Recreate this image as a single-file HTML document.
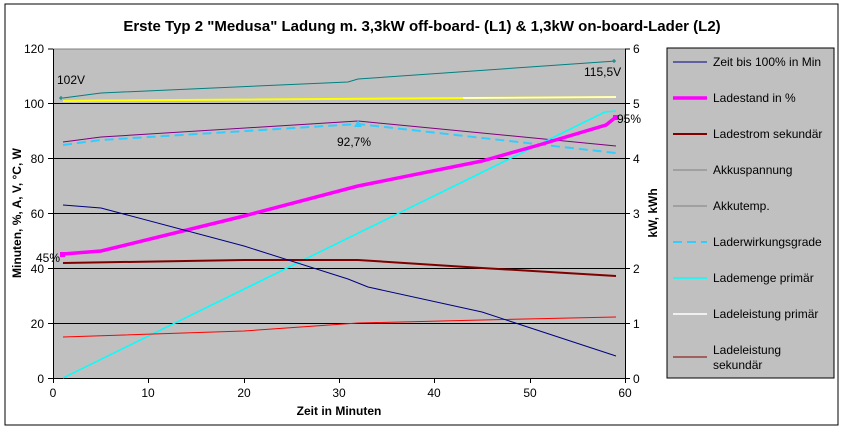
<!DOCTYPE html>
<html><head><meta charset="utf-8"><style>body{margin:0;background:#fff}svg{display:block;font-family:"Liberation Sans",Arial,sans-serif}</style></head><body>
<svg width="844" height="431" viewBox="0 0 844 431">
<rect x="5" y="4" width="833" height="421" fill="#fff" stroke="#000" stroke-width="1"/>
<text x="422" y="31" font-size="15" font-weight="bold" text-anchor="middle">Erste Typ 2 "Medusa" Ladung m. 3,3kW off-board- (L1) &amp; 1,3kW on-board-Lader (L2)</text>
<rect x="53" y="49" width="572" height="329" fill="#c0c0c0"/>
<g stroke="#000" stroke-width="1">
<line x1="53" x2="625" y1="103.5" y2="103.5"/><line x1="53" x2="625" y1="158.5" y2="158.5"/><line x1="53" x2="625" y1="213.5" y2="213.5"/><line x1="53" x2="625" y1="268.5" y2="268.5"/><line x1="53" x2="625" y1="323.5" y2="323.5"/>
<line x1="53" x2="625" y1="49" y2="49" stroke="#808080"/>
<line x1="53.5" x2="53.5" y1="49" y2="378"/><line x1="625.5" x2="625.5" y1="49" y2="378"/><line x1="53" x2="625" y1="378.5" y2="378.5"/>
<path d="M48 49h5M48 103.5h5M48 158.5h5M48 213.5h5M48 268.5h5M48 323.5h5M48 378.5h5M625 49h5M625 103.5h5M625 158.5h5M625 213.5h5M625 268.5h5M625 323.5h5M625 378.5h5M53.5 378v5M148.5 378v5M244.5 378v5M339.5 378v5M434.5 378v5M530.5 378v5M625.5 378v5"/>
</g>
<g font-size="12" text-anchor="end"><text x="44" y="53">120</text><text x="44" y="108">100</text><text x="44" y="163">80</text><text x="44" y="218">60</text><text x="44" y="273">40</text><text x="44" y="328">20</text><text x="44" y="383">0</text></g>
<g font-size="12"><text x="633" y="53">6</text><text x="633" y="108">5</text><text x="633" y="163">4</text><text x="633" y="218">3</text><text x="633" y="273">2</text><text x="633" y="328">1</text><text x="633" y="383">0</text></g>
<g font-size="12" text-anchor="middle"><text x="53" y="397">0</text><text x="148" y="397">10</text><text x="244" y="397">20</text><text x="339" y="397">30</text><text x="434" y="397">40</text><text x="530" y="397">50</text><text x="625" y="397">60</text></g>
<text x="339" y="415" font-size="12" font-weight="bold" text-anchor="middle">Zeit in Minuten</text>
<text transform="translate(21,213) rotate(-90)" font-size="12" font-weight="bold" text-anchor="middle">Minuten, %, A, V, °C, W</text>
<text transform="translate(657,213) rotate(-90)" font-size="12" font-weight="bold" text-anchor="middle">kW, kWh</text>
<g fill="none">
<polyline stroke="#008080" points="63,98 101,93 348,82 358,79 616,61"/>
<polyline stroke="#ffff00" stroke-width="2" points="63,101 101,100.5 616,97"/>
<polyline stroke="#fff" stroke-width="1.5" points="463,98 616,97"/>
<polyline stroke="#800080" points="63,142 101,137 358,121 616,146"/>
<polyline stroke="#33ccff" stroke-width="2" stroke-dasharray="9,5" points="63,145 101,140 358,124 616,153"/>
<polyline stroke="#00ffff" stroke-width="1.5" points="63,378 605,112 616,111"/>
<polyline stroke="#ff00ff" stroke-width="3.5" points="63,254 101,251 244,216 358,186 482,161 539,145 606,125 616,117"/>
<polyline stroke="#800000" stroke-width="2" points="63,263 244,260 358,260 482,268 616,276"/>
<polyline stroke="#ff0000" points="63,337 244,331 358,323 482,320 616,317"/>
<polyline stroke="#000080" points="63,205 101,208 244,246 348,279 368,287 482,312 616,356"/>
</g>
<path d="M63 98h-4M61 96v4M616 61h-4M614 59v4" stroke="#008080"/>
<path d="M358 120l-4 7h8z" fill="#33ccff"/>
<rect x="613" y="115" width="5" height="5" fill="#ff00ff"/>
<rect x="60" y="252" width="5" height="5" fill="#ff00ff"/>
<g font-size="12"><text x="57" y="84">102V</text><text x="584" y="76">115,5V</text><text x="617" y="123">95%</text><text x="36" y="262">45%</text><text x="337" y="146">92,7%</text></g>
<rect x="667" y="48" width="167" height="330" fill="#c0c0c0" stroke="#000"/>
<g font-size="12">
<line x1="673" x2="707" y1="62" y2="62" stroke="#000080"/><text x="713" y="66">Zeit bis 100% in Min</text>
<line x1="673" x2="707" y1="98" y2="98" stroke="#ff00ff" stroke-width="3.5"/><text x="713" y="102">Ladestand in %</text>
<line x1="673" x2="707" y1="134" y2="134" stroke="#800000" stroke-width="2"/><text x="713" y="138">Ladestrom sekundär</text>
<line x1="673" x2="707" y1="170" y2="170" stroke="#808080"/><text x="713" y="174">Akkuspannung</text>
<line x1="673" x2="707" y1="206" y2="206" stroke="#808080"/><text x="713" y="210">Akkutemp.</text>
<line x1="673" x2="707" y1="242" y2="242" stroke="#33ccff" stroke-width="2" stroke-dasharray="9,5"/><text x="713" y="246">Laderwirkungsgrade</text>
<line x1="673" x2="707" y1="278" y2="278" stroke="#00ffff" stroke-width="1.5"/><text x="713" y="282">Lademenge primär</text>
<line x1="673" x2="707" y1="314" y2="314" stroke="#fff" stroke-width="1.5"/><text x="713" y="318">Ladeleistung primär</text>
<line x1="673" x2="707" y1="357" y2="357" stroke="#800000"/><text x="713" y="354">Ladeleistung</text><text x="713" y="369">sekundär</text>
</g>
</svg>
</body></html>
